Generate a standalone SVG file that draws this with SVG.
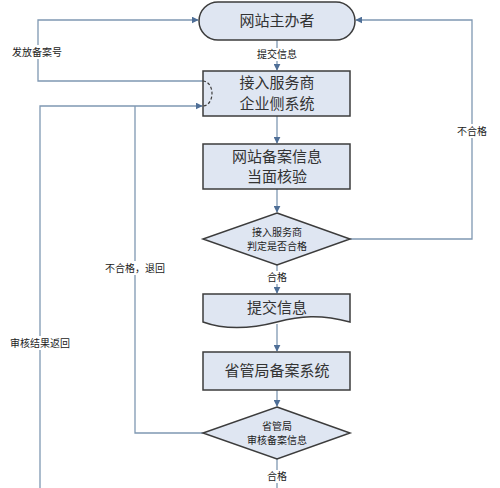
<svg xmlns="http://www.w3.org/2000/svg" width="500" height="488" viewBox="0 0 500 488">
<style>
.node{fill:#dfe6f2;stroke:#3c3c3c;stroke-width:1.5}
.t{font-family:"Liberation Serif","Noto Sans CJK SC",serif;font-size:15px;fill:#333;text-anchor:middle}
.s{font-family:"Liberation Serif","Noto Sans CJK SC",serif;font-size:10px;fill:#222;text-anchor:middle}
.c{fill:none;stroke:#7f98b2;stroke-width:1.3}
.bg{fill:#fff}
</style>
<defs>
<marker id="a" viewBox="0 0 10 10" refX="9" refY="5" markerWidth="7" markerHeight="7" orient="auto" markerUnits="userSpaceOnUse">
<path d="M0,0 L10,5 L0,10 z" fill="#4f6f97"/>
</marker>
</defs>
<g id="connectors">
<path class="c" d="M277,40 V70" marker-end="url(#a)"/>
<path class="c" d="M277,116 V143" marker-end="url(#a)"/>
<path class="c" d="M277,189 V212" marker-end="url(#a)"/>
<path class="c" d="M277,265 V293" marker-end="url(#a)"/>
<path class="c" d="M277,324 V351" marker-end="url(#a)"/>
<path class="c" d="M277,390 V406" marker-end="url(#a)"/>
<path class="c" d="M277,459 V488"/>
<path class="c" d="M203,81 H38 V20 H198" marker-end="url(#a)"/>
<path class="c" d="M350,239 H472 V20 H356" marker-end="url(#a)"/>
<path class="c" d="M40,488 V106 H202" marker-end="url(#a)"/>
<path class="c" d="M203,433 H135 V106"/>
<rect class="bg" x="252" y="48" width="50" height="13"/>
<text class="s" x="277" y="58">提交信息</text>
<rect class="bg" x="9" y="45" width="56" height="14"/>
<text class="s" x="37" y="56">发放备案号</text>
<rect class="bg" x="456" y="124" width="32" height="14"/>
<text class="s" x="472" y="135">不合格</text>
<rect class="bg" x="102" y="261" width="66" height="14"/>
<text class="s" x="135" y="272">不合格，退回</text>
<rect class="bg" x="8" y="336" width="64" height="14"/>
<text class="s" x="40" y="347">审核结果返回</text>
<rect class="bg" x="264" y="271" width="26" height="13"/>
<text class="s" x="277" y="281">合格</text>
<rect class="bg" x="264" y="470" width="26" height="13"/>
<text class="s" x="277" y="480">合格</text>
</g>
<g id="n1">
<rect class="node" x="199" y="2" width="156" height="38" rx="19" ry="19"/>
<text class="t" x="277" y="26">网站主办者</text>
</g>
<g id="n2">
<rect class="node" x="203" y="71" width="147" height="45"/>
<path d="M203,81 A9,12.5 0 0 1 203,106" fill="none" stroke="#3c3c3c" stroke-width="1.2" stroke-dasharray="3,2"/>
<text class="t" x="277" y="88">接入服务商</text>
<text class="t" x="277" y="109">企业侧系统</text>
</g>
<g id="n3">
<rect class="node" x="203" y="144" width="147" height="45"/>
<text class="t" x="277" y="162">网站备案信息</text>
<text class="t" x="277" y="182">当面核验</text>
</g>
<g id="n4">
<polygon class="node" points="277,213 350,239 277,265 203,239"/>
<text class="s" x="277" y="236">接入服务商</text>
<text class="s" x="277" y="250">判定是否合格</text>
</g>
<g id="n5">
<path class="node" d="M203,294 H350 V322 C320,314 300,316 277,322 C250,329 225,330 203,322 Z"/>
<text class="t" x="277" y="313">提交信息</text>
</g>
<g id="n6">
<rect class="node" x="203" y="352" width="147" height="38"/>
<text class="t" x="277" y="376">省管局备案系统</text>
</g>
<g id="n7">
<polygon class="node" points="277,407 350,433 277,459 203,433"/>
<text class="s" x="277" y="430">省管局</text>
<text class="s" x="277" y="444">审核备案信息</text>
</g>
</svg>
